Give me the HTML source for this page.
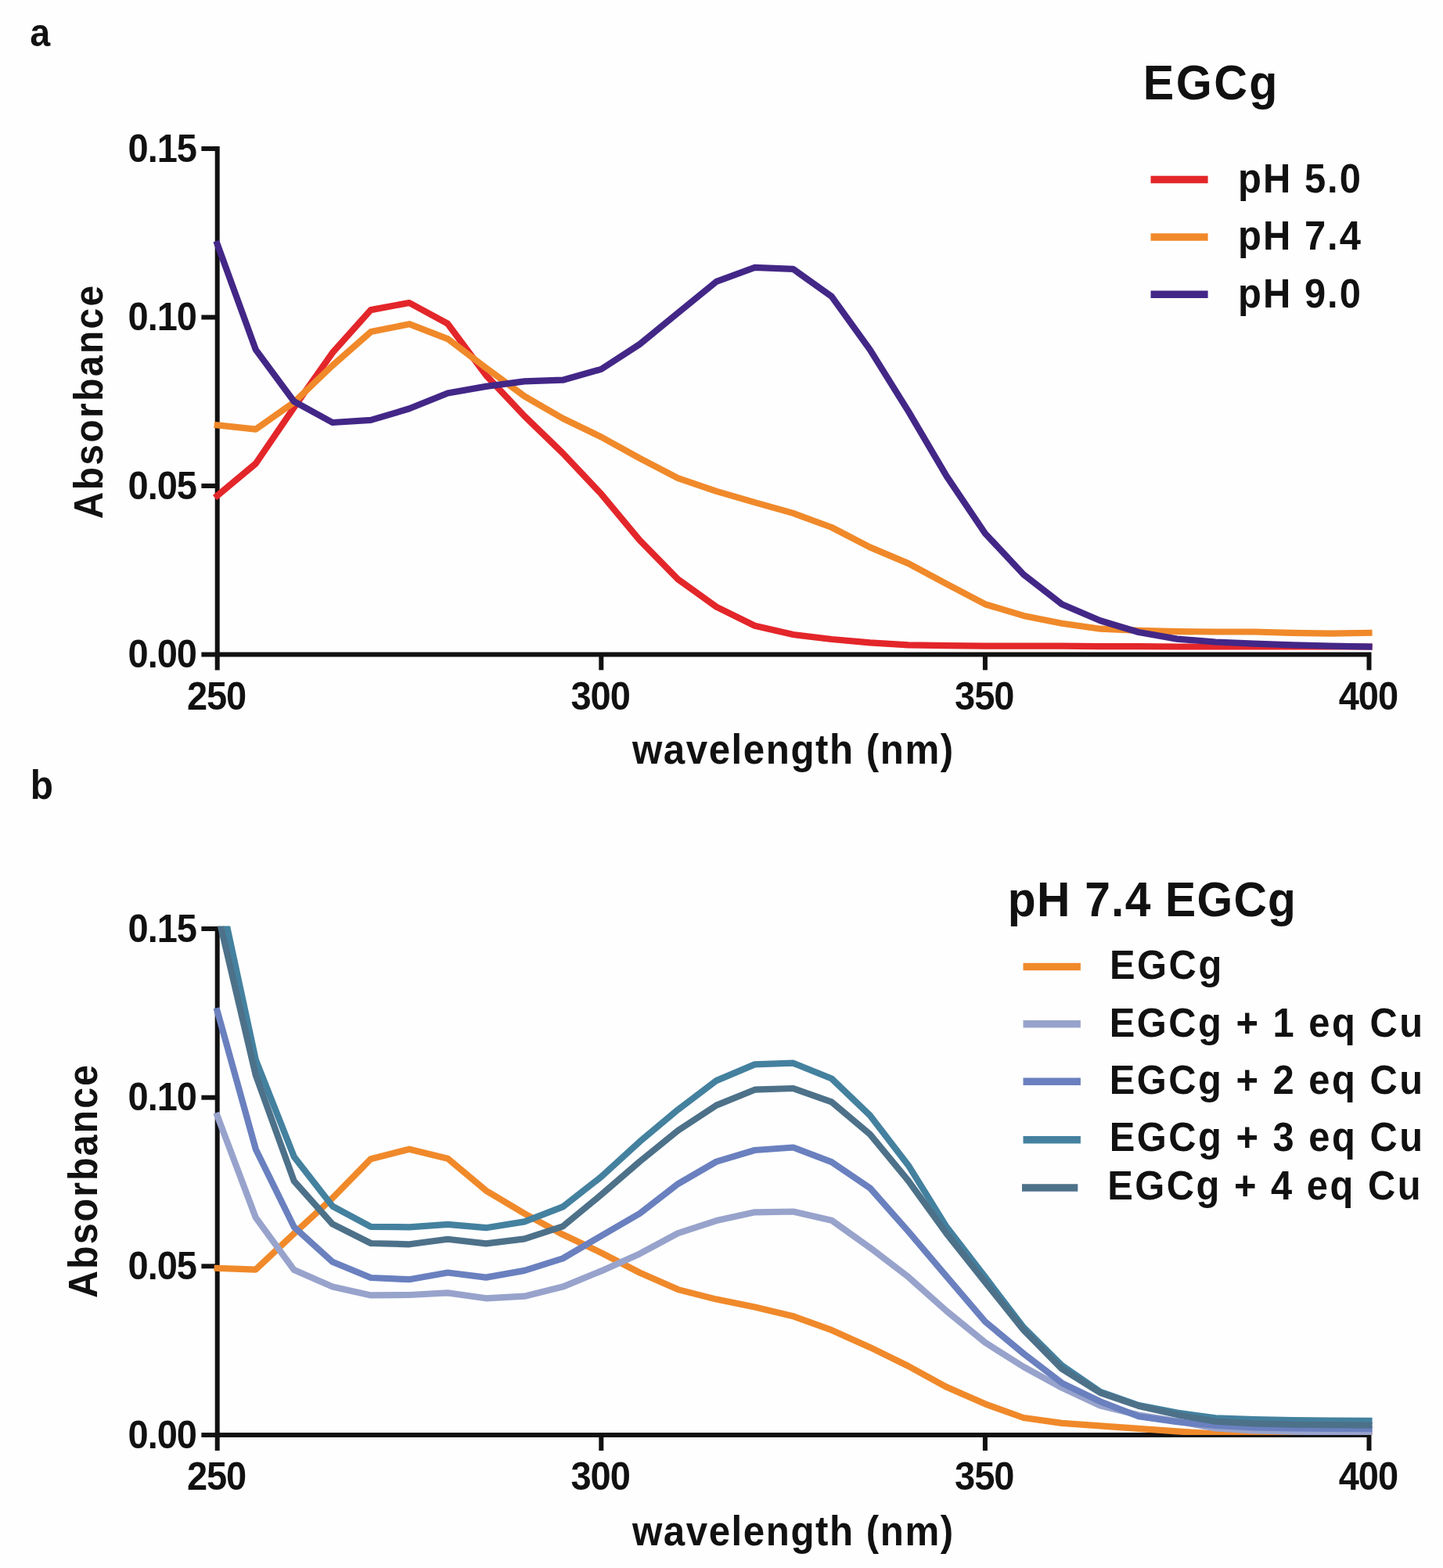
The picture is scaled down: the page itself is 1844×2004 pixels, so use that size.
<!DOCTYPE html>
<html><head><meta charset="utf-8"><title>EGCg absorbance spectra</title>
<style>html,body{margin:0;padding:0;background:#fefefe;}svg{display:block;}</style>
</head><body>
<svg xmlns="http://www.w3.org/2000/svg" width="1844" height="2004" viewBox="0 0 1844 2004">
<rect width="100%" height="100%" fill="#fefefe"/>
<g font-family="'Liberation Sans', Arial, Helvetica, sans-serif" font-weight="bold" fill="#111">
<text transform="translate(38.24,58.90) scale(1,1.0730)" font-size="46.665">a</text>
<text transform="translate(38.75,1021.01) scale(1,1.0730)" font-size="47.818">b</text>
<g fill="none" stroke="#111" stroke-width="6.0">
<path d="M257.4,190.1 H277.7 V856.4"/>
<path d="M257.4,836.4 H1749.5 V856.4"/>
<path d="M257.4,621.0 H277.7"/>
<path d="M257.4,405.5 H277.7"/>
<path d="M768.3,836.4 V856.4"/>
<path d="M1258.9,836.4 V856.4"/>
</g>
<text transform="translate(163.55,852.93) scale(1,1.0730)" font-size="47.011" letter-spacing="-1.039">0.00</text>
<text transform="translate(163.55,637.50) scale(1,1.0730)" font-size="47.011" letter-spacing="-1.039">0.05</text>
<text transform="translate(163.55,422.07) scale(1,1.0730)" font-size="47.011" letter-spacing="-1.039">0.10</text>
<text transform="translate(163.55,206.64) scale(1,1.0730)" font-size="47.011" letter-spacing="-1.039">0.15</text>
<text transform="translate(238.88,906.57) scale(1,1.0730)" font-size="47.011" letter-spacing="-1.039">250</text>
<text transform="translate(729.48,906.57) scale(1,1.0730)" font-size="47.011" letter-spacing="-1.039">300</text>
<text transform="translate(1220.08,906.57) scale(1,1.0730)" font-size="47.011" letter-spacing="-1.039">350</text>
<text transform="translate(1710.68,906.57) scale(1,1.0730)" font-size="47.011" letter-spacing="-1.039">400</text>
<text transform="translate(807.97,976.25) scale(1,1.0730)" font-size="49.276" letter-spacing="1.534">wavelength (nm)</text>
<text transform="translate(131.42,663.30) rotate(-90) scale(1,1.0730)" font-size="47.899" letter-spacing="2.425">Absorbance</text>
<text transform="translate(1460.82,127.09) scale(1,1.0730)" font-size="59.195" letter-spacing="2.406">EGCg</text>
<text transform="translate(1582.10,246.18) scale(1,1.0730)" font-size="48.950" letter-spacing="1.990">pH 5.0</text>
<text transform="translate(1582.10,319.25) scale(1,1.0730)" font-size="48.950" letter-spacing="1.990">pH 7.4</text>
<text transform="translate(1582.10,392.59) scale(1,1.0730)" font-size="48.950" letter-spacing="1.990">pH 9.0</text>
<g fill="none" stroke="#111" stroke-width="6.0">
<path d="M257.4,1187.0 H277.7 V1854.0"/>
<path d="M257.4,1834.0 H1749.5 V1854.0"/>
<path d="M257.4,1618.3 H277.7"/>
<path d="M257.4,1402.7 H277.7"/>
<path d="M768.3,1834.0 V1854.0"/>
<path d="M1258.9,1834.0 V1854.0"/>
</g>
<text transform="translate(163.55,1850.53) scale(1,1.0730)" font-size="47.011" letter-spacing="-1.039">0.00</text>
<text transform="translate(163.55,1634.87) scale(1,1.0730)" font-size="47.011" letter-spacing="-1.039">0.05</text>
<text transform="translate(163.55,1419.20) scale(1,1.0730)" font-size="47.011" letter-spacing="-1.039">0.10</text>
<text transform="translate(163.55,1203.53) scale(1,1.0730)" font-size="47.011" letter-spacing="-1.039">0.15</text>
<text transform="translate(238.88,1904.47) scale(1,1.0730)" font-size="47.011" letter-spacing="-1.039">250</text>
<text transform="translate(729.48,1904.47) scale(1,1.0730)" font-size="47.011" letter-spacing="-1.039">300</text>
<text transform="translate(1220.08,1904.47) scale(1,1.0730)" font-size="47.011" letter-spacing="-1.039">350</text>
<text transform="translate(1710.68,1904.47) scale(1,1.0730)" font-size="47.011" letter-spacing="-1.039">400</text>
<text transform="translate(807.97,1974.85) scale(1,1.0730)" font-size="49.276" letter-spacing="1.534">wavelength (nm)</text>
<text transform="translate(123.77,1658.95) rotate(-90) scale(1,1.0730)" font-size="48.426" letter-spacing="2.016">Absorbance</text>
<text transform="translate(1287.86,1171.49) scale(1,1.0730)" font-size="58.786" letter-spacing="1.219">pH 7.4 EGCg</text>
<text transform="translate(1418.00,1250.84) scale(1,1.0730)" font-size="48.880" letter-spacing="2.490">EGCg</text>
<text transform="translate(1417.70,1324.89) scale(1,1.0730)" font-size="48.880" letter-spacing="2.490">EGCg + 1 eq Cu</text>
<text transform="translate(1417.70,1398.09) scale(1,1.0730)" font-size="48.880" letter-spacing="2.490">EGCg + 2 eq Cu</text>
<text transform="translate(1417.70,1471.40) scale(1,1.0730)" font-size="48.880" letter-spacing="2.490">EGCg + 3 eq Cu</text>
<text transform="translate(1415.23,1532.64) scale(1,1.0730)" font-size="48.880" letter-spacing="2.490">EGCg + 4 eq Cu</text>
</g>
<g fill="none" stroke-width="8.2" stroke-linejoin="round" stroke-linecap="square">
<path d="M277.7,633.5 L326.8,592.5 L375.8,520.6 L424.9,450.8 L473.9,396.1 L523.0,387.0 L572.1,413.7 L621.1,479.6 L670.2,531.8 L719.2,579.2 L768.3,631.3 L817.4,690.3 L866.4,740.3 L915.5,775.6 L964.5,799.8 L1013.6,811.0 L1062.7,817.0 L1111.7,821.3 L1160.8,824.3 L1209.8,825.2 L1258.9,825.6 L1308.0,825.6 L1357.0,825.6 L1406.1,826.1 L1455.1,826.1 L1504.2,826.5 L1553.3,826.5 L1602.3,826.5 L1651.4,826.5 L1700.4,826.5 L1749.5,826.5" stroke="#e3262a"/>
<path d="M277.7,543.4 L326.8,548.6 L375.8,514.1 L424.9,467.1 L473.9,424.1 L523.0,414.2 L572.1,433.1 L621.1,470.2 L670.2,506.4 L719.2,534.8 L768.3,558.5 L817.4,585.6 L866.4,611.1 L915.5,627.9 L964.5,642.1 L1013.6,655.9 L1062.7,674.0 L1111.7,699.4 L1160.8,720.1 L1209.8,746.3 L1258.9,772.2 L1308.0,786.9 L1357.0,796.8 L1406.1,803.7 L1455.1,805.8 L1504.2,807.1 L1553.3,807.5 L1602.3,807.5 L1651.4,808.8 L1700.4,809.7 L1749.5,808.8" stroke="#f0892a"/>
<path d="M277.7,312.0 L326.8,446.9 L375.8,513.2 L424.9,540.0 L473.9,536.9 L523.0,522.3 L572.1,502.5 L621.1,493.9 L670.2,487.4 L719.2,485.7 L768.3,471.9 L817.4,440.0 L866.4,399.9 L915.5,359.9 L964.5,341.8 L1013.6,343.9 L1062.7,378.8 L1111.7,446.9 L1160.8,525.7 L1209.8,608.9 L1258.9,681.7 L1308.0,734.3 L1357.0,772.2 L1406.1,793.3 L1455.1,808.0 L1504.2,816.6 L1553.3,820.5 L1602.3,822.6 L1651.4,824.3 L1700.4,825.6 L1749.5,826.5" stroke="#432787"/>
</g>
<path d="M1470.5,229.6 H1543.6" stroke="#e3262a" stroke-width="9.5"/>
<path d="M1470.5,303.0 H1543.6" stroke="#f0892a" stroke-width="9.5"/>
<path d="M1470.5,376.3 H1543.6" stroke="#432787" stroke-width="9.5"/>
<defs><clipPath id="cb"><rect x="260" y="1183.5" width="1520" height="650.5"/></clipPath></defs>
<g fill="none" stroke-width="8.2" stroke-linejoin="round" stroke-linecap="square" clip-path="url(#cb)">
<path d="M277.7,1620.9 L326.8,1622.6 L375.8,1576.5 L424.9,1531.2 L473.9,1481.2 L523.0,1468.7 L572.1,1480.7 L621.1,1521.7 L670.2,1551.0 L719.2,1577.8 L768.3,1601.1 L817.4,1626.5 L866.4,1648.1 L915.5,1660.6 L964.5,1670.5 L1013.6,1682.2 L1062.7,1699.9 L1111.7,1721.9 L1160.8,1746.0 L1209.8,1772.8 L1258.9,1794.3 L1308.0,1812.0 L1357.0,1818.9 L1406.1,1822.4 L1455.1,1825.8 L1504.2,1829.3 L1553.3,1832.7 L1602.3,1834.0 L1651.4,1834.0 L1700.4,1834.0 L1749.5,1834.0" stroke="#f0892a"/>
<path d="M277.7,1426.0 L326.8,1556.2 L375.8,1623.1 L424.9,1644.6 L473.9,1655.4 L523.0,1655.0 L572.1,1652.4 L621.1,1659.3 L670.2,1656.7 L719.2,1644.6 L768.3,1624.4 L817.4,1602.4 L866.4,1576.1 L915.5,1560.1 L964.5,1549.3 L1013.6,1548.5 L1062.7,1559.7 L1111.7,1594.6 L1160.8,1632.1 L1209.8,1675.7 L1258.9,1715.8 L1308.0,1746.9 L1357.0,1773.6 L1406.1,1796.5 L1455.1,1808.6 L1504.2,1816.3 L1553.3,1825.4 L1602.3,1828.4 L1651.4,1829.7 L1700.4,1830.5 L1749.5,1831.0" stroke="#98a3cc"/>
<path d="M277.7,1292.2 L326.8,1468.7 L375.8,1568.3 L424.9,1612.7 L473.9,1633.0 L523.0,1635.2 L572.1,1626.5 L621.1,1632.6 L670.2,1623.9 L719.2,1608.4 L768.3,1579.5 L817.4,1551.0 L866.4,1513.1 L915.5,1484.6 L964.5,1470.0 L1013.6,1466.5 L1062.7,1485.1 L1111.7,1518.3 L1160.8,1573.9 L1209.8,1631.7 L1258.9,1689.1 L1308.0,1730.0 L1357.0,1767.6 L1406.1,1791.3 L1455.1,1810.3 L1504.2,1817.2 L1553.3,1821.9 L1602.3,1824.5 L1651.4,1825.4 L1700.4,1825.8 L1749.5,1826.2" stroke="#6a80bf"/>
<path d="M277.7,1126.6 L326.8,1354.4 L375.8,1478.6 L424.9,1541.6 L473.9,1567.9 L523.0,1568.3 L572.1,1564.8 L621.1,1569.2 L670.2,1561.4 L719.2,1542.4 L768.3,1504.0 L817.4,1459.2 L866.4,1418.2 L915.5,1381.1 L964.5,1360.4 L1013.6,1358.7 L1062.7,1378.5 L1111.7,1425.5 L1160.8,1489.4 L1209.8,1568.3 L1258.9,1632.1 L1308.0,1696.4 L1357.0,1745.1 L1406.1,1778.8 L1455.1,1796.0 L1504.2,1805.5 L1553.3,1812.4 L1602.3,1814.2 L1651.4,1815.0 L1700.4,1815.5 L1749.5,1815.9" stroke="#44819f"/>
<path d="M277.7,1165.4 L326.8,1374.2 L375.8,1509.6 L424.9,1564.4 L473.9,1589.0 L523.0,1590.3 L572.1,1583.8 L621.1,1589.4 L670.2,1583.4 L719.2,1567.4 L768.3,1526.9 L817.4,1484.6 L866.4,1444.9 L915.5,1412.6 L964.5,1392.7 L1013.6,1391.0 L1062.7,1408.3 L1111.7,1449.7 L1160.8,1509.2 L1209.8,1576.9 L1258.9,1638.6 L1308.0,1699.9 L1357.0,1749.5 L1406.1,1780.1 L1455.1,1796.9 L1504.2,1808.1 L1553.3,1816.7 L1602.3,1819.3 L1651.4,1820.6 L1700.4,1821.1 L1749.5,1821.5" stroke="#4d7189"/>
</g>
<path d="M1307.5,1235.4 H1380.9" stroke="#f0892a" stroke-width="9.5"/>
<path d="M1307.5,1308.8 H1380.9" stroke="#98a3cc" stroke-width="9.5"/>
<path d="M1307.5,1382.2 H1380.9" stroke="#6a80bf" stroke-width="9.5"/>
<path d="M1307.5,1456.8 H1380.9" stroke="#44819f" stroke-width="9.5"/>
<path d="M1306.0,1518.0 H1377.3" stroke="#4d7189" stroke-width="9.5"/>
</svg>
</body></html>
